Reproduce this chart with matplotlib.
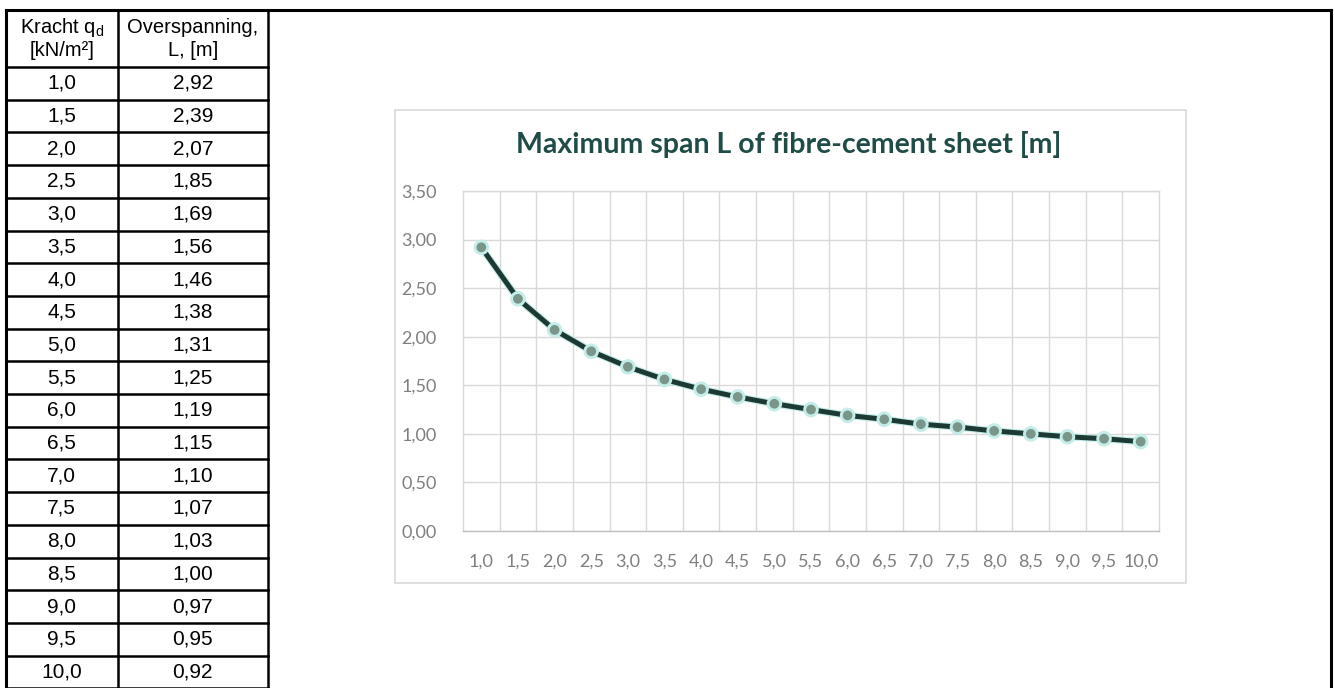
import matplotlib
matplotlib.use("Agg")
import matplotlib.pyplot as plt
from matplotlib.patches import Rectangle
import matplotlib.patheffects as pe

# ---- data ----
loads = ["1,0", "1,5", "2,0", "2,5", "3,0", "3,5", "4,0", "4,5", "5,0", "5,5",
         "6,0", "6,5", "7,0", "7,5", "8,0", "8,5", "9,0", "9,5", "10,0"]
spans = [2.92, 2.39, 2.07, 1.85, 1.69, 1.56, 1.46, 1.38, 1.31, 1.25,
         1.19, 1.15, 1.10, 1.07, 1.03, 1.00, 0.97, 0.95, 0.92]
header_col1 = [r"Kracht q$_{\mathregular{d}}$", "[kN/m²]"]
header_col2 = ["Overspanning,", "L, [m]"]
chart_title = "Maximum span L of fibre-cement sheet [m]"
y_ticks = [0.0, 0.5, 1.0, 1.5, 2.0, 2.5, 3.0, 3.5]

W, H = 1335, 688
fig = plt.figure(figsize=(W / 100, H / 100), dpi=100)
fig.patch.set_facecolor("white")

# ---- background / table axes in pixel coordinates ----
bg = fig.add_axes([0, 0, 1, 1])
bg.set_xlim(0, W)
bg.set_ylim(H, 0)
bg.axis("off")

lw = 1.8
x_left, x_mid, x_right, x_outer = 5.5, 118, 267.5, 1331
y_top, y_head = 10, 67
row_h = 32.7
n = len(loads)

# outer frame
bg.plot([x_left, x_outer], [y_top, y_top], color="black", lw=2.2, solid_capstyle="projecting")
bg.plot([x_left, x_left], [y_top, H + 5], color="black", lw=2.2)
bg.plot([x_outer, x_outer], [y_top, H + 5], color="black", lw=2.2)
bg.plot([x_right, x_right], [y_top, H + 5], color="black", lw=lw)
bg.plot([x_mid, x_mid], [y_top, H + 5], color="black", lw=lw)
for i in range(n + 1):
    yy = y_head + i * row_h
    bg.plot([x_left, x_right], [yy, yy], color="black", lw=lw)

tfont = dict(family="Liberation Sans", fontsize=14.5, color="black", ha="center", va="center")
c1 = (x_left + x_mid) / 2
c2 = (x_mid + x_right) / 2
bg.text(c1, 27.5, header_col1[0], **tfont)
bg.text(c1, 50, header_col1[1], **tfont)
bg.text(c2, 27.5, header_col2[0], **tfont)
bg.text(c2, 50, header_col2[1], **tfont)
dfont = dict(tfont, fontsize=15)
for i, (q, L) in enumerate(zip(loads, spans)):
    yc = y_head + (i + 0.5) * row_h
    bg.text(c1, yc, q, **dfont)
    bg.text(c2, yc, f"{L:.2f}".replace(".", ","), **dfont)

# chart area border
bg.add_patch(Rectangle((395, 110), 1186 - 395, 583 - 110, fill=False,
                       edgecolor="#d9d9d9", lw=1.2))
bg.text((515 + 1062) / 2, 144, chart_title, family="Lato", fontweight="bold",
        fontsize=20.5, color="#1f4c47", ha="center", va="center")

# ---- chart axes ----
pl, pr, pt, pb = 463, 1159, 191, 531
ax = fig.add_axes([pl / W, (H - pb) / H, (pr - pl) / W, (pb - pt) / H])
ax.set_facecolor("white")
xs = list(range(n))
ax.set_xlim(-0.5, n - 0.5)
ax.set_ylim(0, 3.5)
ax.set_yticks(y_ticks)
ax.set_yticklabels([f"{v:.2f}".replace(".", ",") for v in y_ticks])
ax.set_xticks(xs)
ax.set_xticklabels(loads)
ax.set_xticks([i + 0.5 for i in range(n - 1)], minor=True)
ax.grid(True, axis="y", which="major", color="#d9d9d9", lw=1)
ax.grid(True, axis="x", which="minor", color="#d9d9d9", lw=1)
ax.tick_params(axis="both", which="both", length=0)
ax.tick_params(axis="y", pad=19)
ax.tick_params(axis="x", pad=16)
for lab in ax.get_xticklabels() + ax.get_yticklabels():
    lab.set_family("Lato")
    lab.set_fontsize(13)
    lab.set_color("#7f7f7f")
for s in ax.spines.values():
    s.set_color("#d9d9d9")
    s.set_linewidth(1)
ax.spines["bottom"].set_color("#bfbfbf")

ax.plot(xs, spans, color="#1c3a33", lw=3.6, zorder=3,
        path_effects=[pe.Stroke(linewidth=5.2, foreground="#c4ece8"), pe.Normal()],
        marker="o", markersize=6, markerfacecolor="#7a968a",
        markeredgecolor="#7a968a", solid_capstyle="round")

fig.savefig("out.png", dpi=100)
